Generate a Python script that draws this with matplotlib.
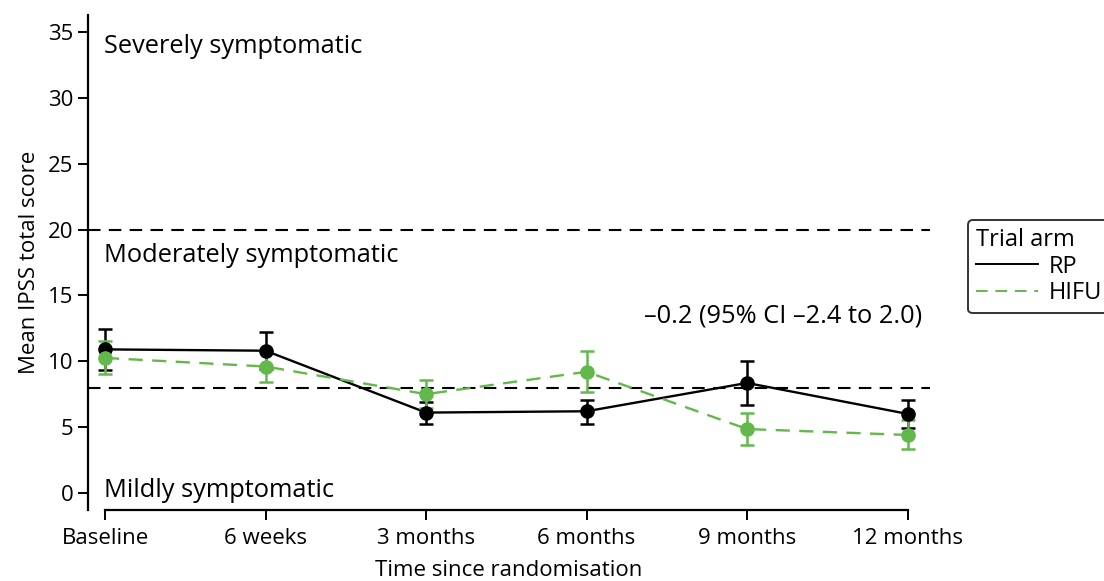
import matplotlib
matplotlib.use("Agg")
import matplotlib.pyplot as plt
import numpy as np

plt.rcParams['font.family'] = ['Open Sans', 'DejaVu Sans']

timepoints = ["Baseline", "6 weeks", "3 months", "6 months", "9 months", "12 months"]

rp_mean = [10.9, 10.8, 6.1, 6.2, 8.35, 6.0]
rp_lower = [9.3, 9.4, 5.2, 5.25, 6.7, 4.9]
rp_upper = [12.45, 12.2, 6.9, 7.05, 10.0, 7.05]

hifu_mean = [10.25, 9.6, 7.5, 9.2, 4.85, 4.4]
hifu_lower = [9.0, 8.45, 6.45, 7.7, 3.6, 3.35]
hifu_upper = [11.5, 10.8, 8.6, 10.8, 6.05, 5.5]

thresholds = [20, 8]
band_labels = ["Severely symptomatic", "Moderately symptomatic", "Mildly symptomatic"]
band_label_y = [33.9, 18.0, 0.2]
difference_text = "\u20130.2 (95% CI \u20132.4 to 2.0)"

green = "#62B84A"
tick_fs = 16
note_fs = 18.3
leg_fs = 17

fig = plt.figure(figsize=(11.04, 5.81), dpi=100)
ax = fig.add_axes([0.0797, 0.1222, 0.7627, 0.852])

x = np.arange(len(timepoints))

def draw_series(mean, lo, hi, color, ls, label):
    mean = np.asarray(mean); lo = np.asarray(lo); hi = np.asarray(hi)
    ax.errorbar(x, mean, yerr=[mean - lo, hi - mean], fmt='none', ecolor=color,
                elinewidth=1.8, capsize=5, capthick=1.8, zorder=3)
    ax.plot(x, mean, color=color, linestyle=ls, linewidth=1.7, zorder=3,
            dashes=(6, 4) if ls == '--' else (None, None), label=label)
    ax.plot(x, mean, 'o', color=color, markersize=9.5, zorder=4)

for t in thresholds:
    ax.axhline(t, color='black', linestyle='--', dashes=(6, 4), linewidth=1.5, zorder=1)

draw_series(rp_mean, rp_lower, rp_upper, 'black', '-', 'RP')
draw_series(hifu_mean, hifu_lower, hifu_upper, green, '--', 'HIFU')

for lab, yy in zip(band_labels, band_label_y):
    ax.text(-0.005, yy, lab, fontsize=note_fs, va='center', ha='left')
ax.text(5.09, 13.4, difference_text, fontsize=note_fs, va='center', ha='right')

ax.set_xlim(-0.106, 5.14)
ax.set_ylim(-1.3, 36.3)
ax.set_xticks(x)
ax.set_xticklabels(timepoints)
ax.set_yticks(np.arange(0, 36, 5))
ax.tick_params(axis='both', labelsize=tick_fs, width=1.4, length=7)
ax.tick_params(axis='x', pad=6)
for s in ['top', 'right']:
    ax.spines[s].set_visible(False)
for s in ['left', 'bottom']:
    ax.spines[s].set_linewidth(1.6)
ax.spines['bottom'].set_bounds(0, 5)

ax.set_xlabel("Time since randomisation", fontsize=tick_fs, labelpad=8)
ax.set_ylabel("Mean IPSS total score", fontsize=tick_fs, labelpad=6)

leg = ax.legend(title="Trial arm", loc='upper left',
                bbox_to_anchor=(968 / 1104, 1 - 220 / 581), bbox_transform=fig.transFigure,
                borderaxespad=0, fontsize=leg_fs, title_fontsize=leg_fs,
                frameon=True, fancybox=True, handlelength=2.6, handletextpad=0.45,
                borderpad=0.35, labelspacing=0.1, alignment='left')
leg.get_frame().set_edgecolor('black')
leg.get_frame().set_linewidth(1.4)
for h in leg.get_lines():
    h.set_linewidth(1.4)

fig.savefig("out.png", dpi=100)
